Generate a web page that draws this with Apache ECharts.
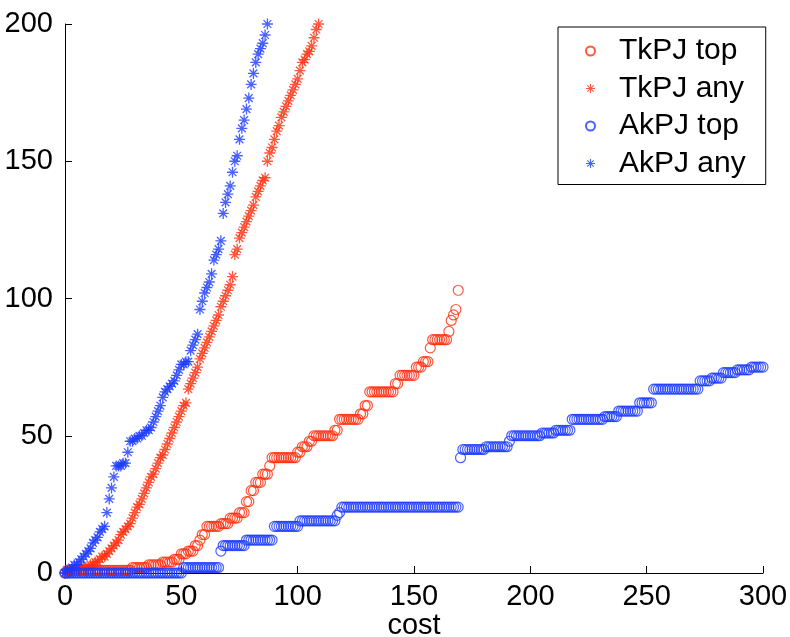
<!DOCTYPE html>
<html>
<head>
<meta charset="utf-8">
<title>cost</title>
<script src="https://cdn.jsdelivr.net/npm/echarts@6/dist/echarts.min.js"></script>
<style>
html, body { margin: 0; padding: 0; background: #fff; }
#main { width: 790px; height: 637px; }
</style>
</head>
<body>
<div id="main"></div>
<script>
// 横轴 cost 从 0 开始逐个取整数, 数组下标就是 cost
var seriesNames = ['TkPJ top', 'TkPJ any', 'AkPJ top', 'AkPJ any'];
var xTicks = [0, 50, 100, 150, 200, 250, 300];
var yTicks = [0, 50, 100, 150, 200];

var tkTop = [
	0, 1, 1, 1, 1, 1, 1, 1, 1, 1, 1, 1, 1, 1, 1, 1, 1, 1, 1, 1,
	1, 1, 1, 1, 1, 1, 1, 1, 1, 2, 2, 2, 2, 2, 2, 2, 3, 3, 3, 3,
	3, 3, 4, 4, 4, 4, 4, 5, 5, 5, 7, 7, 7, 8, 8, 8, 10, 10, 12, 14,
	14, 17, 17, 17, 17, 17, 17, 18, 18, 18, 18, 20, 20, 20, 20, 22, 22, 22, 26, 26,
	30, 30, 33, 33, 33, 36, 36, 36, 39, 42, 42, 42, 42, 42, 42, 42, 42, 42, 42, 42,
	44, 44, 46, 46, 46, 48, 48, 50, 50, 50, 50, 50, 50, 50, 50, 50, 52, 52, 56, 56,
	56, 56, 56, 56, 56, 56, 56, 58, 58, 61, 61, 66, 66, 66, 66, 66, 66, 66, 66, 66,
	66, 66, 69, 69, 72, 72, 72, 72, 72, 72, 72, 75, 75, 75, 77, 77, 77, 82, 85, 85,
	85, 85, 85, 85, 85, 88, 92, 94, 96, 103
];
var tkAny = [
	0, 0, 0, 1, 1, 1, 1, 2, 2, 2, 2, 3, 3, 4, 4, 5, 6, 6, 7, 8,
	9, 10, 11, 12, 14, 15, 16, 17, 18, 20, 22, 24, 25, 27, 29, 31, 33, 35, 36, 38,
	40, 42, 43, 45, 47, 49, 51, 53, 55, 57, 59, 61, 62, 67, 69, 71, 73, 75, 78, 80,
	82, 84, 86, 88, 90, 92, 94, 97, 99, 101, 103, 105, 108, 116, 118, 122, 124, 126, 128, 130,
	132, 134, 137, 139, 141, 143, 144, 150, 153, 155, 158, 161, 163, 166, 168, 170, 172, 174, 176, 178,
	180, 183, 186, 187, 189, 190, 192, 195, 198, 200
];
var akTop = [
	0, 0, 0, 0, 0, 0, 0, 0, 0, 0, 0, 0, 0, 0, 0, 0, 0, 0, 0, 0,
	0, 0, 0, 0, 0, 0, 0, 0, 0, 0, 0, 0, 0, 0, 0, 0, 0, 0, 0, 0,
	0, 0, 0, 0, 0, 0, 0, 0, 0, 0, 0, 2, 2, 2, 2, 2, 2, 2, 2, 2,
	2, 2, 2, 2, 2, 2, 2, 8, 10, 10, 10, 10, 10, 10, 10, 10, 10, 10, 12, 12,
	12, 12, 12, 12, 12, 12, 12, 12, 12, 12, 17, 17, 17, 17, 17, 17, 17, 17, 17, 17,
	17, 19, 19, 19, 19, 19, 19, 19, 19, 19, 19, 19, 19, 19, 19, 19, 19, 21, 22, 24,
	24, 24, 24, 24, 24, 24, 24, 24, 24, 24, 24, 24, 24, 24, 24, 24, 24, 24, 24, 24,
	24, 24, 24, 24, 24, 24, 24, 24, 24, 24, 24, 24, 24, 24, 24, 24, 24, 24, 24, 24,
	24, 24, 24, 24, 24, 24, 24, 24, 24, 24, 42, 45, 45, 45, 45, 45, 45, 45, 45, 45,
	45, 46, 46, 46, 46, 46, 46, 46, 46, 46, 46, 48, 50, 50, 50, 50, 50, 50, 50, 50,
	50, 50, 50, 50, 50, 51, 51, 51, 51, 51, 51, 52, 52, 52, 52, 52, 52, 52, 56, 56,
	56, 56, 56, 56, 56, 56, 56, 56, 56, 56, 56, 56, 57, 57, 57, 57, 57, 57, 59, 59,
	59, 59, 59, 59, 59, 59, 59, 62, 62, 62, 62, 62, 62, 67, 67, 67, 67, 67, 67, 67,
	67, 67, 67, 67, 67, 67, 67, 67, 67, 67, 67, 67, 67, 70, 70, 70, 70, 70, 71, 71,
	71, 71, 71, 73, 73, 73, 73, 73, 73, 74, 74, 74, 74, 74, 74, 75, 75, 75, 75, 75, 75
];
var akAny = [
	0, 1, 1, 2, 3, 3, 4, 5, 6, 7, 8, 9, 11, 12, 13, 15, 16, 17, 22, 27,
	31, 35, 39, 39, 39, 40, 40, 44, 48, 48, 49, 49, 50, 50, 51, 52, 52, 53, 55, 57,
	59, 61, 64, 66, 67, 68, 69, 70, 72, 74, 76, 76, 77, 77, 81, 83, 85, 87, 96, 99,
	102, 104, 106, 109, 114, 116, 118, 121, 131, 135, 138, 141, 146, 150, 152, 158, 162, 165, 169, 173,
	178, 182, 186, 189, 191, 193, 196, 200
];

var red = '#ff2e0e';
var blue = '#1a3aff';
var font = "'Liberation Sans', Helvetica, Arial, sans-serif";
// 米字形星号
var star = 'path://M-5,-0.6L5,-0.6L5,0.6L-5,0.6Z' +
	'M-0.6,-5L0.6,-5L0.6,5L-0.6,5Z' +
	'M-3.95,-3.1L-3.1,-3.95L3.95,3.1L3.1,3.95Z' +
	'M3.1,-3.95L3.95,-3.1L-3.1,3.95L-3.95,3.1Z';

function toPoints(arr) {
	return arr.map(function (y, i) { return [i, y]; });
}

function circleSeries(name, arr, color) {
	return {
		name: name,
		type: 'scatter',
		symbol: 'circle',
		symbolSize: 10,
		itemStyle: { color: 'rgba(255,255,255,0)', borderColor: color, borderWidth: 1.2 },
		data: toPoints(arr)
	};
}

function starSeries(name, arr, color) {
	return {
		name: name,
		type: 'scatter',
		symbol: star,
		symbolSize: 11,
		itemStyle: { color: color },
		data: toPoints(arr)
	};
}

var myChart = echarts.init(document.getElementById('main'), null, { renderer: 'canvas' });
var option = {
	animation: false,
	backgroundColor: '#fff',
	textStyle: { fontFamily: font, color: '#000' },
	grid: { left: 65, right: 27, top: 24, bottom: 64, outerBoundsMode: 'none', containLabel: false },
	legend: {
		orient: 'vertical',
		left: 558,
		top: 27,
		padding: [9, 20, 6, 27],
		itemGap: 7.5,
		itemWidth: 9,
		itemHeight: 9,
		borderColor: '#000',
		borderWidth: 1,
		backgroundColor: '#fff',
		textStyle: { fontSize: 30, color: '#000', fontFamily: font, padding: [0, 0, 0, 19] },
		data: [
			{ name: seriesNames[0], icon: 'circle' },
			{ name: seriesNames[1], icon: star },
			{ name: seriesNames[2], icon: 'circle' },
			{ name: seriesNames[3], icon: star }
		]
	},
	xAxis: {
		type: 'value',
		min: xTicks[0],
		max: xTicks[xTicks.length - 1],
		interval: 50,
		name: 'cost',
		nameLocation: 'middle',
		nameGap: 38,
		nameMoveOverlap: false,
		nameTextStyle: { fontSize: 29, color: '#000', fontFamily: font },
		axisLine: { lineStyle: { color: '#000', width: 1 } },
		axisTick: { inside: true, length: 7, lineStyle: { color: '#000' } },
		axisLabel: { fontSize: 29, color: '#000', margin: 9, fontFamily: font },
		splitLine: { show: false }
	},
	yAxis: {
		type: 'value',
		min: yTicks[0],
		max: yTicks[yTicks.length - 1],
		interval: 50,
		axisLine: { show: true, lineStyle: { color: '#000', width: 1 } },
		axisTick: { show: true, inside: true, length: 7, lineStyle: { color: '#000' } },
		axisLabel: { fontSize: 29, color: '#000', margin: 12, fontFamily: font },
		splitLine: { show: false }
	},
	series: [
		circleSeries(seriesNames[0], tkTop, red),
		starSeries(seriesNames[1], tkAny, red),
		circleSeries(seriesNames[2], akTop, blue),
		starSeries(seriesNames[3], akAny, blue)
	]
};
myChart.setOption(option);
</script>
</body>
</html>
